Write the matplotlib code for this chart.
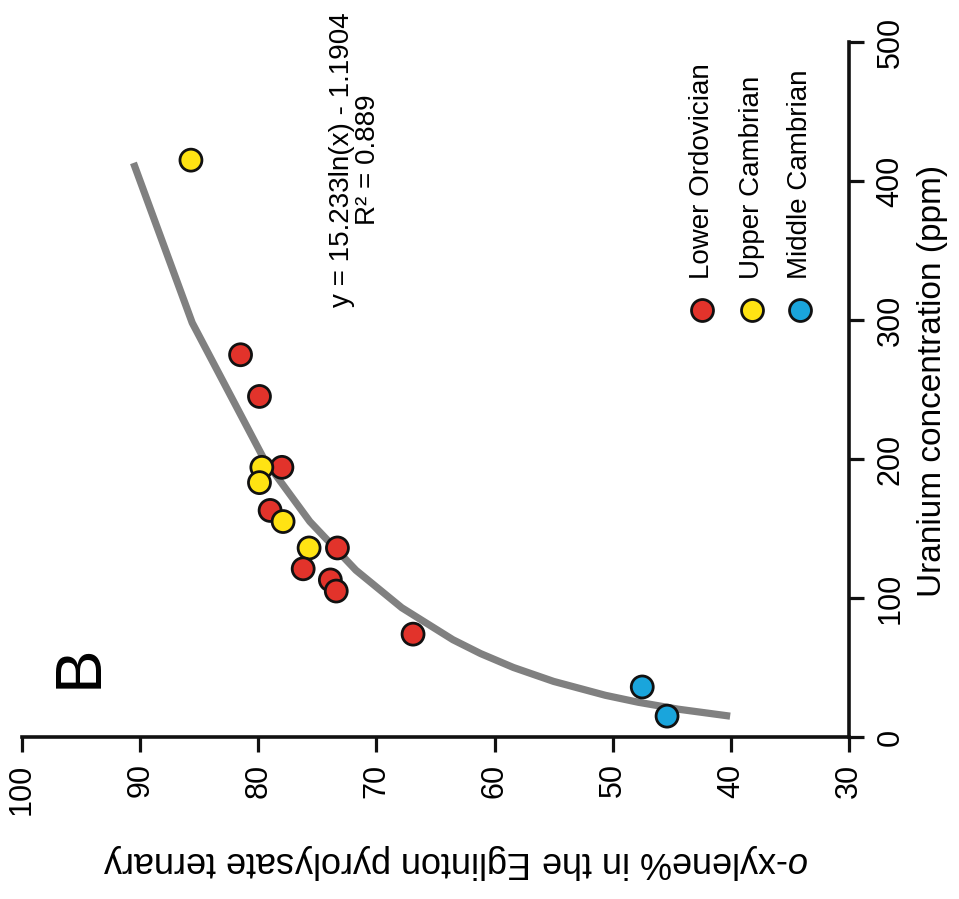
import numpy as np
import matplotlib
matplotlib.use("Agg")
import matplotlib.pyplot as plt

plt.rcParams["font.family"] = ["Liberation Sans", "DejaVu Sans"]
plt.rcParams["mathtext.fontset"] = "custom"
plt.rcParams["mathtext.rm"] = "Liberation Sans"
plt.rcParams["mathtext.it"] = "Liberation Sans:italic"

# o-xylene % (horizontal, drawn inverted) vs uranium ppm (vertical)
lower_ord_xyl = [81.5, 79.9, 78.0, 79.0, 73.3, 76.2, 73.9, 73.4, 66.9]
lower_ord_u = [275, 245, 194, 163, 136, 121, 113, 105, 74]
upper_cam_xyl = [85.7, 79.7, 79.9, 77.9, 75.7]
upper_cam_u = [415, 194, 183, 155, 136]
middle_cam_xyl = [47.5, 45.4]
middle_cam_u = [36, 15]

# trendline shown on the chart: y = 15.233 ln(x) - 1.1904
trend_slope = 15.233
trend_intercept = -1.1904
trend_u = [15, 20, 25, 30, 40, 50, 60, 70, 93, 120, 155, 200, 298, 413]

xyl_ticks = [100, 90, 80, 70, 60, 50, 40, 30]
u_ticks = [0, 100, 200, 300, 400, 500]

RED = "#e2332b"
YELLOW = "#ffe313"
BLUE = "#1aa5dc"

W, H = 959, 899


def fpx(x, y):
    """pixel position -> figure fraction"""
    return x / W, 1 - y / H


fig = plt.figure(figsize=(W / 100, H / 100), dpi=100)
ax = fig.add_axes([22 / W, (H - 737) / H, (849 - 22) / W, (737 - 42) / H])

tu = np.array(trend_u, dtype=float)
ax.plot(trend_slope * np.log(tu) + trend_intercept, tu, color="#808080",
        linewidth=5.2, solid_capstyle="butt", zorder=2, clip_on=False)

# one scatter so overlapping markers stack by uranium value
xs = np.concatenate([lower_ord_xyl, upper_cam_xyl, middle_cam_xyl])
us = np.concatenate([lower_ord_u, upper_cam_u, middle_cam_u])
cs = np.array([RED] * len(lower_ord_xyl) + [YELLOW] * len(upper_cam_xyl)
              + [BLUE] * len(middle_cam_xyl))
order = np.argsort(-us, kind="stable")
ax.scatter(xs[order], us[order], s=250, c=cs[order], edgecolors="#111111",
           linewidths=2.0, zorder=3, clip_on=False)

ax.set_xlim(100, 30)
ax.set_ylim(0, 500)
ax.set_xticks(xyl_ticks)
ax.set_yticks(u_ticks)
ax.yaxis.tick_right()
for s in ("top", "left"):
    ax.spines[s].set_visible(False)
for s in ("bottom", "right"):
    ax.spines[s].set_linewidth(2.6)
    ax.spines[s].set_color("#111111")
ax.tick_params(direction="out", length=11, width=2.3, color="#111111",
               labelsize=22, pad=8)
for lab in ax.get_xticklabels():
    lab.set_rotation(90)
for lab in ax.get_yticklabels():
    lab.set_rotation(90)
    lab.set_va("center")

fig.text(*fpx(933, 381), "Uranium concentration (ppm)", rotation=90,
         ha="center", va="center", fontsize=24)
fig.text(*fpx(456, 862), "$\\it{o}$-xylene% in the Eglinton pyrolysate ternary",
         rotation=180, ha="center", va="center", fontsize=26)

fig.text(*fpx(80, 666), "B", rotation=90, ha="center", va="center", fontsize=47)
fig.text(*fpx(355, 160), "y = 15.233ln(x) - 1.1904\nR\u00b2 = 0.889", rotation=90,
         ha="center", va="center", multialignment="center", fontsize=20,
         linespacing=1.0)

# legend drawn by hand, rotated like the rest of the figure
legend_items = [("Lower Ordovician", RED, 702), ("Upper Cambrian", YELLOW, 752),
                ("Middle Cambrian", BLUE, 800)]
for label, col, x in legend_items:
    fig.add_artist(plt.Line2D([x / W], [1 - 310 / H], marker="o", markersize=15.8,
                              markerfacecolor=col, markeredgecolor="#111111",
                              markeredgewidth=2.0, linestyle="none",
                              transform=fig.transFigure))
    fig.text(*fpx(x, 279), label, rotation=90, ha="center", va="bottom", fontsize=20)

fig.savefig("out.png", dpi=100)
